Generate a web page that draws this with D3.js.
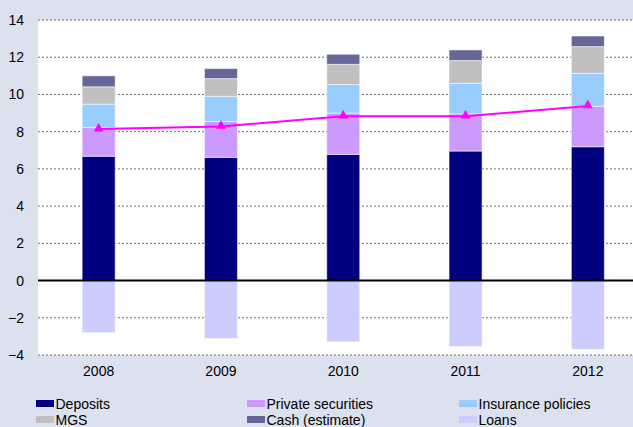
<!DOCTYPE html>
<html>
<head>
<meta charset="utf-8">
<script src="https://cdn.jsdelivr.net/npm/d3@7"></script>
<style>
  html, body { margin: 0; padding: 0; background: #dbe1ef; }
  svg { display: block; font-family: "Liberation Sans", Arial, sans-serif; }
</style>
</head>
<body>
<svg id="chart" width="633" height="427"></svg>
<script>
// Household assets and liabilities, RM trillion
const years = ["2008", "2009", "2010", "2011", "2012"];
const deposits = [6.68, 6.62, 6.78, 6.96, 7.19];
const privateSecurities = [1.54, 1.93, 2.22, 2.00, 2.18];
const insurancePolicies = [1.26, 1.35, 1.53, 1.64, 1.77];
const mgs = [0.93, 0.95, 1.09, 1.22, 1.43];
const cash = [0.59, 0.54, 0.54, 0.57, 0.57];
const loans = [-2.80, -3.11, -3.29, -3.54, -3.70];
const netLine = [8.14, 8.28, 8.83, 8.83, 9.38];
const yTicks = [-4, -2, 0, 2, 4, 6, 8, 10, 12, 14];

const seriesNames = ["Deposits", "Private securities", "Insurance policies", "MGS", "Cash (estimate)", "Loans"];
const seriesColors = ["#000080", "#cc99ff", "#99ccff", "#c0c0c0", "#666699", "#ccccff"];
const positiveSeries = [deposits, privateSecurities, insurancePolicies, mgs, cash];

const svg = d3.select("#chart");
const plot = { left: 38, right: 633, top: 20, bottom: 355 };

const x = d3.scaleBand()
  .domain(years)
  .range([37.5, 649])
  .paddingInner(0.73)
  .paddingOuter(0.365);

const y = d3.scaleLinear().domain([-4, 14]).range([plot.bottom, plot.top]);

// plot background
svg.append("rect")
  .attr("x", plot.left).attr("y", plot.top)
  .attr("width", plot.right - plot.left).attr("height", plot.bottom - plot.top)
  .attr("fill", "#ffffff");

// dashed gridlines
svg.append("g")
  .selectAll("line")
  .data(yTicks.filter(t => t !== 0))
  .join("line")
  .attr("x1", plot.left).attr("x2", plot.right)
  .attr("y1", d => y(d)).attr("y2", d => y(d))
  .attr("stroke", "#6e6e6e")
  .attr("stroke-width", 1)
  .attr("stroke-dasharray", "2,2");

// stacked positive components
const rows = years.map((yr, i) => {
  const r = { year: yr };
  seriesNames.slice(0, 5).forEach((n, k) => { r[n] = positiveSeries[k][i]; });
  return r;
});
const stack = d3.stack().keys(seriesNames.slice(0, 5));
const stacked = stack(rows);

const barsG = svg.append("g");
stacked.forEach((layer, k) => {
  barsG.append("g")
    .attr("fill", seriesColors[k])
    .selectAll("rect")
    .data(layer)
    .join("rect")
    .attr("x", d => x(d.data.year))
    .attr("width", x.bandwidth())
    .attr("y", d => y(d[1]))
    .attr("height", d => y(d[0]) - y(d[1]))
    .attr("stroke", "rgba(255,255,255,0.55)")
    .attr("stroke-width", 1);
});

// loans below zero
barsG.append("g")
  .attr("fill", seriesColors[5])
  .selectAll("rect")
  .data(loans)
  .join("rect")
  .attr("x", (d, i) => x(years[i]))
  .attr("width", x.bandwidth())
  .attr("y", y(0))
  .attr("height", d => y(d) - y(0))
  .attr("stroke", "rgba(255,255,255,0.55)")
  .attr("stroke-width", 1);

// zero line
svg.append("line")
  .attr("x1", plot.left).attr("x2", plot.right)
  .attr("y1", y(0)).attr("y2", y(0))
  .attr("stroke", "#000000")
  .attr("stroke-width", 2);

// net line with triangle markers
const line = d3.line()
  .x((d, i) => x(years[i]) + x.bandwidth() / 2)
  .y(d => y(d));
svg.append("path")
  .datum(netLine)
  .attr("d", line)
  .attr("fill", "none")
  .attr("stroke", "#ff00ff")
  .attr("stroke-width", 2);

const tri = d3.symbol().type(d3.symbolTriangle).size(42);
svg.append("g")
  .selectAll("path")
  .data(netLine)
  .join("path")
  .attr("d", tri)
  .attr("transform", (d, i) => `translate(${x(years[i]) + x.bandwidth() / 2},${y(d) - 0.5})`)
  .attr("fill", "#ff00ff");

// y axis labels
const yAxis = d3.axisLeft(y).tickValues(yTicks).tickSize(0).tickPadding(0);
const yg = svg.append("g")
  .attr("transform", `translate(24,0)`)
  .call(yAxis);
yg.select(".domain").remove();
yg.selectAll("text")
  .attr("font-size", 14)
  .attr("font-family", "'Liberation Sans', Arial, sans-serif")
  .attr("fill", "#000");

// x axis labels
const xAxis = d3.axisBottom(x).tickSize(0).tickPadding(0);
const xg = svg.append("g")
  .attr("transform", `translate(0,366)`)
  .call(xAxis);
xg.select(".domain").remove();
xg.selectAll("text")
  .attr("font-size", 14)
  .attr("dy", "0.71em")
  .attr("font-family", "'Liberation Sans', Arial, sans-serif")
  .attr("fill", "#000");

// legend
const legendCols = [36, 247, 459];
const legendRows = [400, 416];
const legend = svg.append("g");
seriesNames.forEach((name, k) => {
  const cx = legendCols[k % 3];
  const ry = legendRows[Math.floor(k / 3)];
  legend.append("rect")
    .attr("x", cx).attr("y", ry)
    .attr("width", 18).attr("height", 7)
    .attr("fill", seriesColors[k]);
  legend.append("text")
    .attr("x", cx + 19.5).attr("y", ry + 8.5)
    .attr("font-size", 14)
    .attr("fill", "#000")
    .text(name);
});
</script>
</body>
</html>
